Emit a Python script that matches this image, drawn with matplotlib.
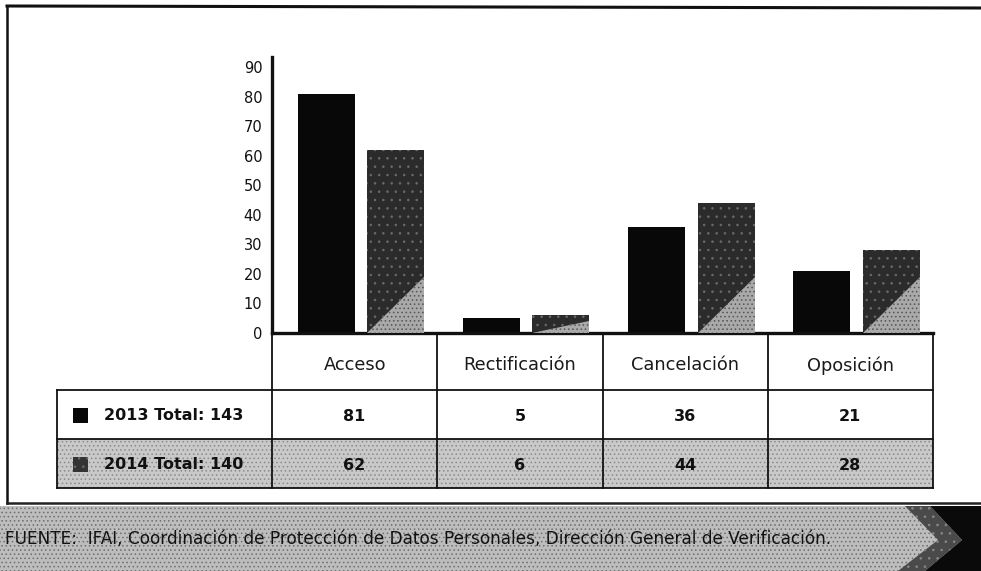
import matplotlib
matplotlib.use("Agg")
import matplotlib.pyplot as plt
from matplotlib.patches import Rectangle, Polygon
from matplotlib.transforms import blended_transform_factory

# ---- data -------------------------------------------------------------
categories = ["Acceso", "Rectificación", "Cancelación", "Oposición"]
values_2013 = [81, 5, 36, 21]
values_2014 = [62, 6, 44, 28]
series_labels = ["2013 Total: 143", "2014 Total: 140"]
y_ticks = [0, 10, 20, 30, 40, 50, 60, 70, 80, 90]
source_text = ("FUENTE:  IFAI, Coordinación de Protección de Datos Personales, "
               "Dirección General de Verificación.")

# ---- figure -------------------------------------------------------------
W, H = 981, 571
fig = plt.figure(figsize=(W / 100, H / 100), dpi=100)
fig.patch.set_facecolor("white")
plt.rcParams["font.family"] = ["DejaVu Sans"]
plt.rcParams["hatch.linewidth"] = 0.6

# background axes in pixel coordinates (origin top-left)
bg = fig.add_axes([0, 0, 1, 1])
bg.set_xlim(0, W)
bg.set_ylim(H, 0)
bg.axis("off")

# chart axes
x0_px, x1_px, base_px, top_px = 272, 933, 333, 57
ax = fig.add_axes([x0_px / W, 1 - base_px / H,
                   (x1_px - x0_px) / W, (base_px - top_px) / H])
ax.set_facecolor("none")
n = len(categories)
ax.set_xlim(0, n)
ax.set_ylim(0, 93.4)
ax.set_yticks(y_ticks)
ax.set_xticks([])
ax.tick_params(axis="y", length=0, pad=7, labelsize=10.5, labelcolor="#111")
for s in ("top", "right"):
    ax.spines[s].set_visible(False)
ax.spines["left"].set_linewidth(2.4)
ax.spines["bottom"].set_linewidth(2.4)
ax.spines["left"].set_color("#111")
ax.spines["bottom"].set_color("#111")

pos = list(range(n))
w = 0.345
ax.bar([p + 0.155 for p in pos], values_2013, width=w, align="edge",
       color="#080808", edgecolor="#080808", linewidth=0, zorder=2)
bars14 = ax.bar([p + 0.575 for p in pos], values_2014, width=w, align="edge",
                color="#2b2b2b", edgecolor="#6a6a6a", hatch="..",
                linewidth=0, zorder=2)

# lighter wedge in the lower-right corner of each 2014 bar
for b, v in zip(bars14, values_2014):
    xl, xr = b.get_x(), b.get_x() + b.get_width()
    th = min(19, 0.7 * v)
    ax.add_patch(Polygon([(xl, 0), (xr, 0), (xr, th)], closed=True,
                         facecolor="#a9a9a9", edgecolor="#555555",
                         hatch="....", linewidth=0, zorder=3))

# ---- data table under the chart ---------------------------------------
tr = blended_transform_factory(ax.transData, bg.transData)
row_y = [base_px, 390, 439, 488]        # header / 2013 / 2014 boundaries
label_left = 57
lw = 1.3
ink = "#111"

# 2014 row shading
bg.add_patch(Rectangle((label_left, row_y[2]), x1_px - label_left,
                       row_y[3] - row_y[2], facecolor="#c9c9c9",
                       edgecolor="#8a8a8a", hatch="....", linewidth=0,
                       zorder=1))

# horizontal rules
for yy in row_y[1:]:
    bg.plot([label_left, x1_px], [yy, yy], color=ink, lw=lw, zorder=4)
# vertical rules at category boundaries
for i in range(n + 1):
    ax.plot([i, i], [row_y[0], row_y[3]], transform=tr, color=ink, lw=lw,
            zorder=4, clip_on=False)
bg.plot([label_left, label_left], [row_y[1], row_y[3]], color=ink, lw=lw,
        zorder=4)

# category names
for i, c in enumerate(categories):
    ax.text(i + 0.5, (row_y[0] + row_y[1]) / 2 + 4, c, transform=tr,
            ha="center", va="center", fontsize=12.8, color="#1a1a1a",
            clip_on=False)

# values
for r, vals in enumerate([values_2013, values_2014]):
    yc = (row_y[r + 1] + row_y[r + 2]) / 2 + 2
    for i, v in enumerate(vals):
        ax.text(i + 0.5, yc, str(v), transform=tr, ha="center",
                va="center", fontsize=11.5, fontweight="bold", color=ink,
                clip_on=False)

# row labels with colour keys
key_colors = ["#080808", "#333333"]
for r, lab in enumerate(series_labels):
    yc = (row_y[r + 1] + row_y[r + 2]) / 2 + 1
    bg.add_patch(Rectangle((73, yc - 7.5), 15, 15, facecolor=key_colors[r],
                           edgecolor="#6a6a6a" if r else key_colors[r],
                           hatch=".." if r else None, linewidth=0,
                           zorder=5))
    bg.text(104, yc, lab, ha="left", va="center", fontsize=11.5,
            fontweight="bold", color=ink, zorder=5)

# ---- outer frame ------------------------------------------------------
bg.plot([7, 7], [6, 503], color=ink, lw=1.8)
bg.plot([7, W], [6, 8], color=ink, lw=2.2)
bg.plot([7, W], [503, 503], color="#222", lw=1.8)

# ---- source footer ----------------------------------------------------
bg.add_patch(Rectangle((0, 506), W, H - 506, facecolor="#bdbdbd",
                       edgecolor="#6e6e6e", hatch="....", linewidth=0,
                       zorder=1))
bg.add_patch(Polygon([(930, 506), (W, 506), (W, H), (925, H), (962, 540)],
                     closed=True, facecolor="#0a0a0a", linewidth=0, zorder=2))
bg.add_patch(Polygon([(905, 506), (930, 506), (962, 540), (925, H),
                      (898, H), (938, 540)], closed=True,
                     facecolor="#4a4a4a", edgecolor="#888", hatch="..",
                     linewidth=0, zorder=2))
bg.text(5, 539, source_text, ha="left", va="center", fontsize=12.2,
        color="#111", zorder=3)

fig.savefig("out.png", dpi=100, facecolor="white")
